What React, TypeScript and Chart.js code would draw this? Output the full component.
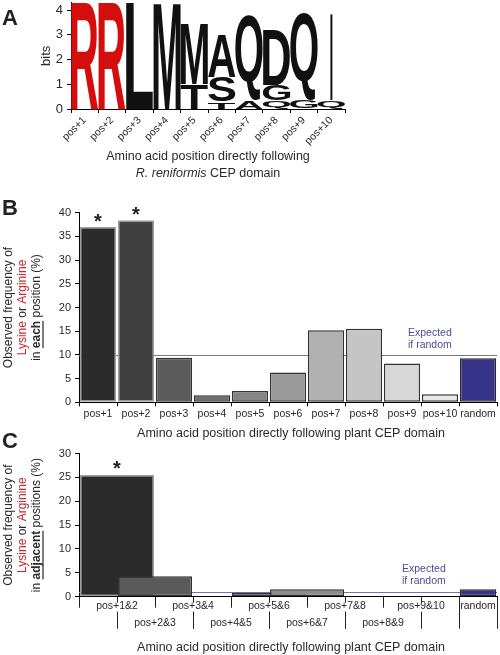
import React, { useEffect, useRef } from 'react';
import { Chart, registerables } from 'chart.js';
Chart.register(...registerables);

const FONT = '"Liberation Sans", Arial, Helvetica, sans-serif';
Chart.defaults.font.family = FONT;

const TEXT = '#2a2a2a';
const RED = '#c62a30';
const LINE_BLUE = '#7474b8';
const TEXT_BLUE = '#4b4b9a';

// ---------- Panel A: sequence logo ----------
const logoPositions = ['pos+1', 'pos+2', 'pos+3', 'pos+4', 'pos+5', 'pos+6', 'pos+7', 'pos+8', 'pos+9', 'pos+10'];
const logoLetters = [['R'], ['R'], ['L'], ['M'], ['T', 'M'], ['T', 'S', 'A'], ['A', 'Q'], ['Q', 'G', 'D'], ['G', 'Q'], ['Q', 'I']];
const logoBits = [[4.3], [4.3], [4.3], [4.3], [1.0, 2.45], [0.3, 1.0, 1.75], [0.35, 3.45], [0.35, 0.62, 2.22], [0.35, 3.5], [0.35, 3.5]];
const logoMax = 4.3;
const letterColors: Record<string, string> = { R: '#d40d0d' };
const letterWidths: Record<string, number> = { I: 0.08 };

// ---------- Panel B ----------
const bCategories = ['pos+1', 'pos+2', 'pos+3', 'pos+4', 'pos+5', 'pos+6', 'pos+7', 'pos+8', 'pos+9', 'pos+10', 'random'];
const bValues = [37.0, 38.4, 9.4, 1.5, 2.4, 6.3, 15.2, 15.5, 8.2, 1.7, 9.3];
const bFills = ['#2b2b2b', '#404040', '#5b5b5b', '#6f6f6f', '#858585', '#9b9b9b', '#b1b1b1', '#c5c5c5', '#d7d7d7', '#e9e9e9', '#37338a'];
const bBorders = ['#a0a0a0', '#a0a0a0', '#333333', '#333333', '#333333', '#333333', '#333333', '#333333', '#333333', '#333333', '#2a2a2a'];
const bStarred = ['pos+1', 'pos+2'];
const bExpected = 10;

// ---------- Panel C ----------
const cPairs = ['pos+1&2', 'pos+2&3', 'pos+3&4', 'pos+4&5', 'pos+5&6', 'pos+6&7', 'pos+7&8', 'pos+8&9', 'pos+9&10'];
const cPairValues = [25.5, 4.3, 0, 0, 0.85, 1.55, 0, 0, 0];
const cPairFills = ['#2b2b2b', '#5a5a5a', '#666666', '#666666', '#6a6a6a', '#8e8e8e', '#aaaaaa', '#bbbbbb', '#cccccc'];
const cPairBorders = ['#a0a0a0', '#333333', '#333333', '#333333', '#333333', '#333333', '#333333', '#333333', '#333333'];
const cRandomLabel = 'random';
const cRandomValue = 1.55;
const cStarred = ['pos+1&2'];
const cExpected = 1;

type Seg = { t: string; c?: string; b?: boolean; i?: boolean; u?: boolean };

function drawRich(ctx: CanvasRenderingContext2D, segs: Seg[], x: number, y: number, size: number) {
  const fonts = segs.map(s => `${s.i ? 'italic ' : ''}${s.b ? 'bold ' : ''}${size}px ${FONT}`);
  let total = 0;
  const widths = segs.map((s, k) => {
    ctx.font = fonts[k];
    const w = ctx.measureText(s.t).width;
    total += w;
    return w;
  });
  let cx = x - total / 2;
  ctx.textAlign = 'left';
  ctx.textBaseline = 'middle';
  segs.forEach((s, k) => {
    ctx.font = fonts[k];
    ctx.fillStyle = s.c || TEXT;
    ctx.fillText(s.t, cx, y);
    if (s.u) ctx.fillRect(cx, y + size * 0.45, widths[k], 1.2);
    cx += widths[k];
  });
}

function drawRotated(ctx: CanvasRenderingContext2D, lines: Seg[][], x: number, y: number, size: number, gap: number) {
  ctx.save();
  ctx.translate(x, y);
  ctx.rotate(-Math.PI / 2);
  const n = lines.length;
  lines.forEach((l, k) => drawRich(ctx, l, 0, (k - (n - 1) / 2) * gap, size));
  ctx.restore();
}

function panelLabel(ctx: CanvasRenderingContext2D, t: string, x: number, y: number) {
  ctx.save();
  ctx.font = `bold 22px ${FONT}`;
  ctx.fillStyle = '#222';
  ctx.textAlign = 'left';
  ctx.textBaseline = 'alphabetic';
  ctx.fillText(t, x, y);
  ctx.restore();
}

function star(ctx: CanvasRenderingContext2D, x: number, cy: number) {
  ctx.save();
  ctx.font = `bold 20px ${FONT}`;
  ctx.fillStyle = '#222';
  ctx.textAlign = 'center';
  ctx.textBaseline = 'alphabetic';
  const m = ctx.measureText('*');
  ctx.fillText('*', x, cy + (m.actualBoundingBoxAscent - m.actualBoundingBoxDescent) / 2);
  ctx.restore();
}

function fixBox(w?: number, h?: number) {
  return (scale: any) => {
    if (w !== undefined) scale.width = w;
    if (h !== undefined) scale.height = h;
    scale.paddingTop = 0;
    scale.paddingBottom = 0;
    scale.paddingLeft = 0;
    scale.paddingRight = 0;
  };
}

function yAxis(max: number, step: number, width: number, size: number) {
  return {
    min: 0,
    max,
    ticks: { stepSize: step, includeBounds: false, font: { size }, color: '#2a2a2a', padding: 4 },
    grid: { drawOnChartArea: false, drawTicks: true, tickLength: 4, color: '#000', lineWidth: 1 },
    border: { display: true, color: '#000', width: 1 },
    afterFit: fixBox(width, undefined),
  };
}

function yTitle(word: string, plural: boolean): Seg[][] {
  return [
    [{ t: 'Observed frequency of' }],
    [{ t: 'Lysine', c: RED }, { t: ' or ' }, { t: 'Arginine', c: RED }],
    [{ t: 'in ' }, { t: word, b: true, u: true }, { t: plural ? ' positions (%)' : ' position (%)' }],
  ];
}

const logoPlugin = {
  id: 'logoLetters',
  afterDatasetsDraw(chart: any) {
    const ctx: CanvasRenderingContext2D = chart.ctx;
    chart.data.datasets.forEach((ds: any, di: number) => {
      const meta = chart.getDatasetMeta(di);
      meta.data.forEach((el: any, i: number) => {
        const letter = ds.letters[i];
        if (!letter) return;
        const p = el.getProps(['x', 'y', 'base', 'width'], true);
        const top = Math.min(p.y, p.base);
        const h = Math.abs(p.base - p.y);
        if (h < 0.5) return;
        const frac = letterWidths[letter] ?? 1;
        const w = p.width * frac;
        const left = p.x - w / 2;
        ctx.save();
        ctx.font = `bold 100px ${FONT}`;
        ctx.textAlign = 'left';
        ctx.textBaseline = 'alphabetic';
        const m = ctx.measureText(letter);
        const gw = m.actualBoundingBoxLeft + m.actualBoundingBoxRight;
        const gh = m.actualBoundingBoxAscent + m.actualBoundingBoxDescent;
        ctx.translate(left, top);
        ctx.scale(w / gw, h / gh);
        ctx.fillStyle = letterColors[letter] ?? '#111';
        ctx.fillText(letter, m.actualBoundingBoxLeft, m.actualBoundingBoxAscent);
        ctx.restore();
      });
    });
  },
};

function makeA(): any {
  return {
    type: 'bar',
    data: {
      labels: logoPositions,
      datasets: [0, 1, 2].map(k => ({
        data: logoBits.map(b => b[k] ?? 0),
        letters: logoLetters.map(l => l[k] ?? null),
        backgroundColor: 'rgba(0,0,0,0)',
        borderWidth: 0,
        barPercentage: 1,
        categoryPercentage: 1,
      })),
    },
    options: {
      responsive: false,
      animation: false,
      devicePixelRatio: 1,
      layout: { padding: { left: 0, top: 2.6, right: 155, bottom: 0 } },
      plugins: { legend: { display: false }, tooltip: { enabled: false } },
      scales: {
        x: {
          stacked: true,
          grid: { offset: true, drawOnChartArea: false, drawTicks: true, tickLength: 4, color: '#000' },
          border: { display: true, color: '#000', width: 1 },
          ticks: { minRotation: 45, maxRotation: 45, autoSkip: false, font: { size: 10.5 }, color: '#2a2a2a', padding: 1 },
          afterFit: fixBox(undefined, 81),
        },
        y: { ...yAxis(logoMax, 1, 71, 13), stacked: true },
      },
    },
    plugins: [
      logoPlugin,
      {
        id: 'textA',
        afterDraw(chart: any) {
          const ctx: CanvasRenderingContext2D = chart.ctx;
          const ca = chart.chartArea;
          panelLabel(ctx, 'A', 2, 25);
          drawRotated(ctx, [[{ t: 'bits' }]], ca.left - 25, (ca.top + ca.bottom) / 2, 13, 0);
          const cx = (ca.left + ca.right) / 2;
          drawRich(ctx, [{ t: 'Amino acid position directly following' }], cx, ca.bottom + 48, 12.5);
          drawRich(ctx, [{ t: 'R. reniformis', i: true }, { t: ' CEP domain' }], cx, ca.bottom + 64.5, 12.5);
        },
      },
    ],
  };
}

function expectedLinePlugin(value: number) {
  return {
    id: 'expectedLine',
    beforeDatasetsDraw(chart: any) {
      const ctx: CanvasRenderingContext2D = chart.ctx;
      const ca = chart.chartArea;
      const y = chart.scales.y.getPixelForValue(value);
      ctx.save();
      ctx.strokeStyle = LINE_BLUE;
      ctx.lineWidth = 1;
      ctx.beginPath();
      ctx.moveTo(ca.left, Math.round(y) + 0.5);
      ctx.lineTo(ca.right, Math.round(y) + 0.5);
      ctx.stroke();
      ctx.restore();
    },
  };
}

function expectedText(ctx: CanvasRenderingContext2D, x: number, y: number) {
  ctx.save();
  ctx.font = `10.5px ${FONT}`;
  ctx.fillStyle = TEXT_BLUE;
  ctx.textAlign = 'left';
  ctx.textBaseline = 'middle';
  ctx.fillText('Expected', x, y - 12);
  ctx.fillText('if random', x, y);
  ctx.restore();
}

function makeB(): any {
  return {
    type: 'bar',
    data: {
      labels: bCategories,
      datasets: [
        {
          data: bValues,
          backgroundColor: bFills,
          borderColor: bBorders,
          borderWidth: 1.5,
          borderSkipped: false,
          barPercentage: 0.955,
          categoryPercentage: 1,
        },
      ],
    },
    options: {
      responsive: false,
      animation: false,
      devicePixelRatio: 1,
      layout: { padding: { left: 0, top: 32.7, right: 3, bottom: 0 } },
      plugins: { legend: { display: false }, tooltip: { enabled: false } },
      scales: {
        x: {
          grid: { offset: true, drawOnChartArea: false, drawTicks: true, tickLength: 4, color: '#000' },
          border: { display: true, color: '#000', width: 1 },
          ticks: { autoSkip: false, maxRotation: 0, font: { size: 10.5 }, color: '#2a2a2a', padding: 2 },
          afterFit: fixBox(undefined, 42.7),
        },
        y: yAxis(40, 5, 79, 11),
      },
    },
    plugins: [
      expectedLinePlugin(bExpected),
      {
        id: 'textB',
        afterDraw(chart: any) {
          const ctx: CanvasRenderingContext2D = chart.ctx;
          const ca = chart.chartArea;
          const meta = chart.getDatasetMeta(0);
          bStarred.forEach(lbl => {
            const idx = bCategories.indexOf(lbl);
            const el = meta.data[idx];
            star(ctx, el.x, el.y - 9);
          });
          panelLabel(ctx, 'B', 2, 35);
          drawRotated(ctx, yTitle('each', false), ca.left - 56, (ca.top + ca.bottom) / 2, 12, 14);
          drawRich(ctx, [{ t: 'Amino acid position directly following plant CEP domain' }], (ca.left + ca.right) / 2 + 3, ca.bottom + 31.7, 12.5);
          expectedText(ctx, ca.right - 89, chart.scales.y.getPixelForValue(bExpected) - 10);
        },
      },
    ],
  };
}

function makeC(): any {
  const zeroAware = (c: any) => (c.raw && c.raw.y > 0 ? 1.5 : 0);
  return {
    type: 'bar',
    data: {
      datasets: [
        {
          data: cPairValues.map((v, i) => ({ x: i + 1, y: v })),
          backgroundColor: cPairFills,
          borderColor: cPairBorders,
          borderWidth: zeroAware,
          borderSkipped: false,
          grouped: false,
          barPercentage: 0.975,
          categoryPercentage: 2,
        },
        {
          data: [{ x: cPairs.length + 1.5, y: cRandomValue }],
          backgroundColor: '#37338a',
          borderColor: '#2a2a2a',
          borderWidth: 1.5,
          borderSkipped: false,
          grouped: false,
          barPercentage: 0.96,
          categoryPercentage: 1,
        },
      ],
    },
    options: {
      responsive: false,
      animation: false,
      devicePixelRatio: 1,
      layout: { padding: { left: 0, top: 28.5, right: 3, bottom: 0 } },
      plugins: { legend: { display: false }, tooltip: { enabled: false } },
      scales: {
        x: {
          type: 'linear',
          min: 0,
          max: cPairs.length + 2,
          offset: false,
          ticks: { display: false, stepSize: 1 },
          grid: { display: false, offset: false },
          border: { display: true, color: '#000', width: 1 },
          afterFit: fixBox(undefined, 58.3),
        },
        y: yAxis(30, 5, 79, 11),
      },
    },
    plugins: [
      expectedLinePlugin(cExpected),
      {
        id: 'textC',
        afterDraw(chart: any) {
          const ctx: CanvasRenderingContext2D = chart.ctx;
          const ca = chart.chartArea;
          const xs = chart.scales.x;
          const y0 = ca.bottom;
          const meta = chart.getDatasetMeta(0);
          cStarred.forEach(lbl => {
            const idx = cPairs.indexOf(lbl);
            const el = meta.data[idx];
            star(ctx, el.x, el.y - 10);
          });
          panelLabel(ctx, 'C', 2, 23);
          drawRotated(ctx, yTitle('adjacent', true), ca.left - 56, (ca.top + ca.bottom) / 2, 12, 14);
          drawRich(ctx, [{ t: 'Amino acid position directly following plant CEP domain' }], (ca.left + ca.right) / 2 + 3, ca.bottom + 50.5, 12.5);
          expectedText(ctx, ca.right - 95, chart.scales.y.getPixelForValue(cExpected) - 11);

          // two-row category labels with separators
          ctx.save();
          ctx.strokeStyle = '#222';
          ctx.lineWidth = 1;
          const vline = (v: number, a: number, b: number) => {
            const x = Math.round(xs.getPixelForValue(v)) + 0.5;
            ctx.beginPath();
            ctx.moveTo(x, y0 + a);
            ctx.lineTo(x, y0 + b);
            ctx.stroke();
          };
          cPairs.forEach((lbl, i) => {
            const c = i + 1;
            const row = i % 2;
            if (row === 0) {
              vline(c - 1, 0, 11);
              vline(c, 0, 6);
            } else {
              vline(c - 1, 15, 32);
              vline(c + 1, 15, 32);
            }
            ctx.font = `10.5px ${FONT}`;
            ctx.fillStyle = '#2a2a2a';
            ctx.textAlign = 'center';
            ctx.textBaseline = 'middle';
            ctx.fillText(lbl, xs.getPixelForValue(c), y0 + (row === 0 ? 9 : 26.5));
          });
          const rx = cPairs.length + 1;
          vline(rx, 0, 32);
          vline(rx + 1, 0, 32);
          ctx.fillText(cRandomLabel, xs.getPixelForValue(rx + 0.5), y0 + 9);
          ctx.restore();
        },
      },
    ],
  };
}

function ChartCanvas({ top, height, make }: { top: number; height: number; make: () => any }) {
  const ref = useRef<HTMLCanvasElement | null>(null);
  useEffect(() => {
    const chart = new Chart(ref.current as HTMLCanvasElement, make());
    return () => chart.destroy();
  }, []);
  return (
    <canvas
      ref={ref}
      width={500}
      height={height}
      style={{ position: 'absolute', left: 0, top, width: 500, height, display: 'block' }}
    />
  );
}

export default function App() {
  return (
    <div style={{ position: 'absolute', left: 0, top: 0, width: 500, height: 655, background: '#fff', overflow: 'hidden' }}>
      <ChartCanvas top={0} height={190} make={makeA} />
      <ChartCanvas top={180} height={265} make={makeB} />
      <ChartCanvas top={425} height={230} make={makeC} />
    </div>
  );
}
